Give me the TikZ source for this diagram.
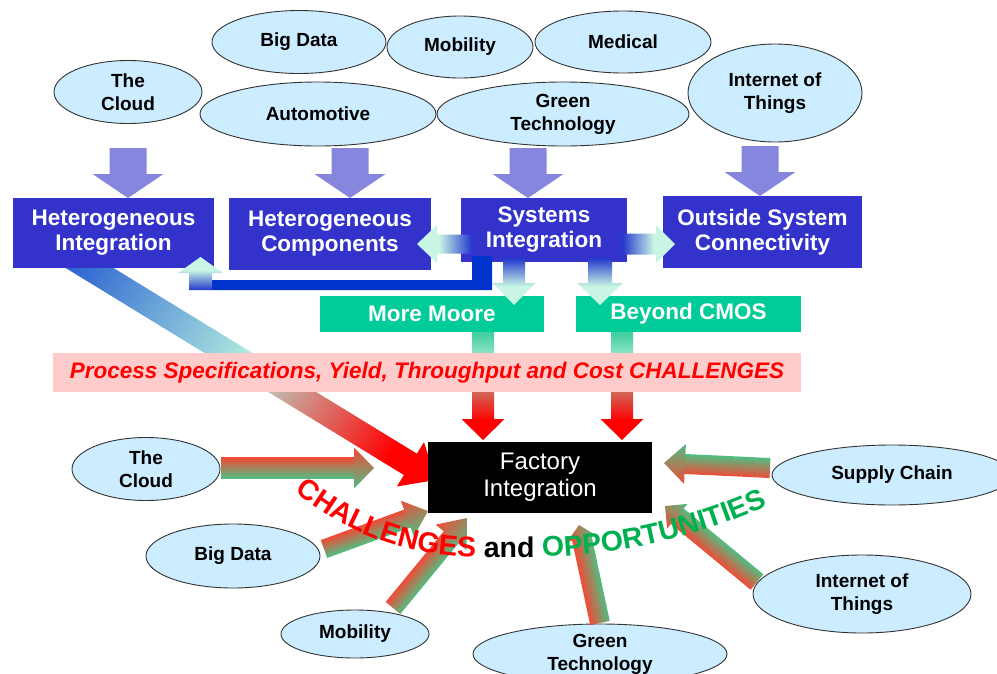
\documentclass[tikz,border=0pt]{standalone}
\usepackage{fontspec}
\setmainfont{Liberation Sans}
\usetikzlibrary{shapes.geometric,decorations.text}

\definecolor{bubbleblue}{RGB}{204,236,255}
\definecolor{topicblue}{RGB}{51,51,204}
\definecolor{branchgreen}{RGB}{0,204,153}
\definecolor{bandpink}{RGB}{255,204,204}
\definecolor{arrowpurple}{RGB}{134,134,222}
\definecolor{barblue}{RGB}{0,51,204}
\definecolor{flowblue}{RGB}{35,55,205}
\definecolor{flowmint}{RGB}{200,245,228}
\definecolor{bigblue}{RGB}{40,95,210}
\definecolor{bigmint}{RGB}{178,236,222}
\definecolor{mooreteal}{RGB}{60,205,160}
\definecolor{mooremint}{RGB}{150,230,200}
\definecolor{feedred}{RGB}{240,75,55}
\definecolor{feedgreen}{RGB}{80,190,130}
\definecolor{chalred}{RGB}{255,0,0}
\definecolor{oppgreen}{RGB}{0,176,80}

\pgfdeclarehorizontalshading{sysflow}{100bp}{color(0bp)=(flowblue); color(25bp)=(flowblue); color(55bp)=(flowmint); color(100bp)=(flowmint)}
\pgfdeclarehorizontalshading{bigflow}{100bp}{color(0bp)=(bigblue); color(25bp)=(bigblue); color(49bp)=(bigmint); color(69bp)=(red); color(100bp)=(red)}
\pgfdeclarehorizontalshading{mooreflow}{100bp}{color(0bp)=(mooreteal); color(25bp)=(mooreteal); color(36bp)=(mooremint); color(66bp)=(red); color(100bp)=(red)}

% start point, angle and length of a block arrow
\newcommand{\arrowframe}[2]{%
  \path (#1); \pgfgetlastxy{\arrowax}{\arroway}%
  \path (#2); \pgfgetlastxy{\arrowbx}{\arrowby}%
  \pgfmathsetmacro{\arrowang}{atan2((\arrowby)-(\arroway),(\arrowbx)-(\arrowax))}%
  \pgfmathsetmacro{\arrowlen}{veclen((\arrowbx)-(\arrowax),(\arrowby)-(\arroway))}%
}
% block arrow in one piece, shading runs from start to tip
\newcommand{\flowarrow}[6]{%
  \arrowframe{#1}{#2}%
  \begin{scope}[transform canvas={shift={(\arrowax,\arroway)},rotate=\arrowang}]
    \path[#6] (0pt,-#3) -- ({\arrowlen pt-#5},-#3) -- ({\arrowlen pt-#5},-#4)
      -- (\arrowlen pt,0pt) -- ({\arrowlen pt-#5},#4) -- ({\arrowlen pt-#5},#3)
      -- (0pt,#3) -- cycle;
  \end{scope}}
% block arrow red on one side, green on the other
\newcommand{\feedarrow}[5]{%
  \arrowframe{#1}{#2}%
  \begin{scope}[transform canvas={shift={(\arrowax,\arroway)},rotate=\arrowang}]
    \path[feed] (0pt,-#3) rectangle ({\arrowlen pt-#5+0.5pt},#3);
    \path[feed] ({\arrowlen pt-#5},-#4) -- (\arrowlen pt,0pt) -- ({\arrowlen pt-#5},#4) -- cycle;
  \end{scope}}
\newcommand{\chalfont}{\fontsize{28.5}{30}\selectfont\bfseries}

\begin{document}
\begin{tikzpicture}[x=1pt,y=-1pt,
  bubble/.style={ellipse,draw=black!80,line width=0.9pt,fill=bubbleblue,inner sep=0pt,
    align=center,font=\fontsize{19}{23}\selectfont\bfseries},
  topic/.style={rectangle,fill=topicblue,text=white,inner sep=0pt,align=center,
    font=\fontsize{22.5}{25}\selectfont\bfseries},
  branch/.style={rectangle,fill=branchgreen,text=white,inner sep=0pt,
    font=\fontsize{22.5}{25}\selectfont\bfseries},
  feed/.style={top color=feedred,bottom color=feedgreen}]

\useasboundingbox (0,0) rectangle (997,673);

% big arrow from Heterogeneous Integration, under boxes and band
\coordinate (bigs) at (70,256);
\coordinate (bigt) at (436,480);
\flowarrow{bigs}{bigt}{12.5pt}{26pt}{30pt}{shade,shading=bigflow}

% top fields
\node[bubble,minimum width=174pt,minimum height=63pt] (bigdata1) at (299,42) {Big Data};
\node[bubble,minimum width=146pt,minimum height=62pt] (mobility1) at (460,47) {Mobility};
\node[bubble,minimum width=176pt,minimum height=62pt] (medical1) at (623,42) {Medical};
\node[bubble,minimum width=148pt,minimum height=63pt] (cloud1) at (128,92) {The\\Cloud};
\node[bubble,minimum width=236pt,minimum height=64pt] (auto1) at (318,114) {Automotive};
\node[bubble,minimum width=252pt,minimum height=64pt] (green1) at (563,114) {Green\\Technology};
\node[bubble,minimum width=174pt,minimum height=98pt] (iot1) at (775,93) {Internet of\\Things};

% integration row
\node[topic,minimum width=201pt,minimum height=70pt] (hetint) at (113.5,233) {Heterogeneous\\Integration};
\node[topic,minimum width=202pt,minimum height=72pt] (hetcomp) at (330,234) {Heterogeneous\\Components};
\node[topic,minimum width=166pt,minimum height=64pt] (sysint) at (544,230) {Systems\\Integration};
\node[topic,minimum width=199pt,minimum height=72pt] (outside) at (762.5,232) {Outside System\\Connectivity};

% purple arrows down
\coordinate (pcloud) at (128,148);  \coordinate (phetint) at (128,198);
\coordinate (pauto) at (350,148);   \coordinate (phetcomp) at (350,198);
\coordinate (pgreen) at (528,148);  \coordinate (psys) at (528,198);
\coordinate (piot) at (760,146);    \coordinate (pout) at (760,196);
\flowarrow{pcloud}{phetint}{18.5pt}{35.5pt}{24pt}{fill=arrowpurple}
\flowarrow{pauto}{phetcomp}{18.5pt}{35.5pt}{24pt}{fill=arrowpurple}
\flowarrow{pgreen}{psys}{18.5pt}{35.5pt}{24pt}{fill=arrowpurple}
\flowarrow{piot}{pout}{18.5pt}{35.5pt}{24pt}{fill=arrowpurple}

% green branches
\node[branch,minimum width=224pt,minimum height=36pt] (moremoore) at (432,314) {More Moore};
\node[branch,minimum width=225pt,minimum height=36pt] (beyond) at (688.5,314) {Beyond CMOS};

% out of Systems Integration
\fill[barblue] (211,280) -- (472,280) -- (472,256) -- (492,256) -- (492,290) -- (211,290) -- cycle;
\coordinate (sysl) at (472,244);  \coordinate (compr) at (417,244);
\coordinate (sysr) at (622,244);  \coordinate (outl) at (675,244);
\coordinate (sysd1) at (514,258); \coordinate (mmtop) at (514,305);
\coordinate (sysd2) at (600,258); \coordinate (bctop) at (600,305);
\coordinate (barup) at (200.5,290); \coordinate (hetbot) at (200.5,257);
\flowarrow{sysl}{compr}{9.5pt}{19pt}{20pt}{shade,shading=sysflow}
\flowarrow{sysr}{outl}{10.5pt}{19pt}{19pt}{shade,shading=sysflow}
\flowarrow{sysd1}{mmtop}{11pt}{21.5pt}{22pt}{shade,shading=sysflow}
\flowarrow{sysd2}{bctop}{12pt}{23pt}{22pt}{shade,shading=sysflow}
\flowarrow{barup}{hetbot}{11.5pt}{22.5pt}{16pt}{shade,shading=sysflow}

% down to the factory
\coordinate (mmbot) at (483,332); \coordinate (facl) at (483,440);
\coordinate (bcbot) at (622,332); \coordinate (facr) at (622,440);
\flowarrow{mmbot}{facl}{11pt}{21.5pt}{21pt}{shade,shading=mooreflow}
\flowarrow{bcbot}{facr}{11pt}{21.5pt}{21pt}{shade,shading=mooreflow}

\node[rectangle,fill=bandpink,minimum width=748pt,minimum height=39pt,inner sep=0pt,text=chalred,
  font=\fontsize{22.5}{25}\selectfont\bfseries\itshape] (band) at (427,372.5)
  {Process Specifications, Yield, Throughput and Cost CHALLENGES};

% bottom fields
\node[bubble,minimum width=148pt,minimum height=63pt] (cloud2) at (146,469) {The\\Cloud};
\node[bubble,minimum width=174pt,minimum height=64pt] (bigdata2) at (233,556) {Big Data};
\node[bubble,minimum width=148pt,minimum height=48pt] (mobility2) at (355,634) {Mobility};
\node[bubble,minimum width=254pt,minimum height=60pt] (green2) at (600,654) {Green\\Technology};
\node[bubble,minimum width=240pt,minimum height=60pt] (supply) at (892,475) {Supply Chain};
\node[bubble,minimum width=218pt,minimum height=78pt] (iot2) at (862,594) {Internet of\\Things};

\coordinate (fcloud) at (221,468);   \coordinate (tcloud) at (374,468);
\coordinate (fbig) at (324,549);     \coordinate (tbig) at (428,511);
\coordinate (fmob) at (393,608);     \coordinate (tmob) at (467,518);
\coordinate (fgreen) at (600,623);   \coordinate (tgreen) at (579,525);
\coordinate (fiot) at (757,582);     \coordinate (tiot) at (665,506);
\coordinate (fsupply) at (770,468);  \coordinate (tsupply) at (664,463);
\feedarrow{fcloud}{tcloud}{10.5pt}{20.5pt}{20pt}
\feedarrow{fbig}{tbig}{9.5pt}{19pt}{22pt}
\feedarrow{fmob}{tmob}{9.5pt}{20pt}{25pt}
\feedarrow{fgreen}{tgreen}{10pt}{15pt}{14pt}
\feedarrow{fiot}{tiot}{10pt}{16pt}{16pt}
\feedarrow{fsupply}{tsupply}{10pt}{20pt}{21pt}

\node[rectangle,fill=black,text=white,minimum width=224pt,minimum height=71pt,inner sep=0pt,
  align=center,font=\fontsize{24}{27}\selectfont] (factory) at (540,477.5) {Factory\\Integration};

% curved slogan
\coordinate (slogs) at (295,491.5);
\coordinate (slogm) at (475,557);
\coordinate (slogn) at (530,557);
\coordinate (sloge) at (782.5,498.7);
\path[decorate,decoration={text along path,text align=left,
  text={|\chalfont\color{chalred}|CHALLENGES |\chalfont\color{black}|and |\chalfont\color{oppgreen}|OPPORTUNITIES}}]
  (slogs) .. controls (345.4,533.8) and (409.2,557) .. (slogm) -- (slogn)
  .. controls (617.5,557) and (703.9,537.1) .. (sloge);
\end{tikzpicture}
\end{document}
